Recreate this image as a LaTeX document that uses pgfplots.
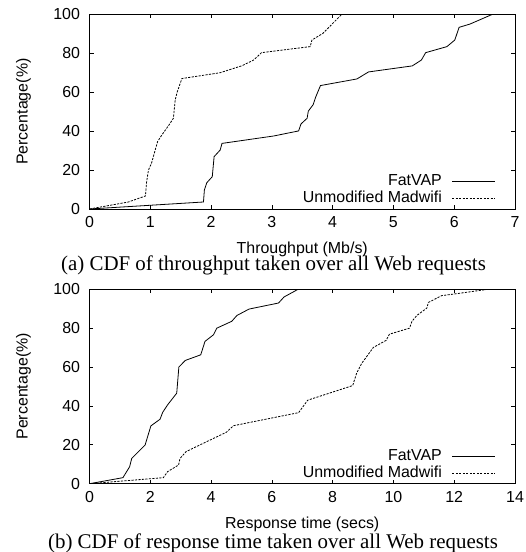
\documentclass[border=0pt]{standalone}
\usepackage{fontspec}
\setmainfont{Liberation Serif}
\setsansfont{Liberation Sans}
\usepackage{pgfplots}
\pgfplotsset{compat=1.18}
\begin{document}
\begin{tikzpicture}
\path[use as bounding box] (0,0) rectangle (526bp,-552bp);
\pgfplotsset{
 cdf/.style={
  scale only axis, width=425.5bp, height=194.7bp,
  ymin=0, ymax=100, ytick={0,20,...,100},
  font=\sffamily\fontsize{16}{19}\selectfont,
  /pgf/number format/assume math mode=true,
  tick align=inside, major tick length=4bp,
  axis line style={line width=0.9bp},
  tick style={line width=0.6bp, black},
  xticklabel style={yshift=-4bp},
  yticklabel style={xshift=-6bp},
  ylabel={Percentage(\%)},
  ylabel style={at={(axis description cs:-0.155,0.5)}, anchor=center},
  xlabel style={at={(axis description cs:0.5,-0.228)}, anchor=base},
  legend style={draw=none, fill=none, inner sep=0pt,
    at={(axis description cs:0.955,0.012)}, anchor=south east,
    nodes={inner sep=1bp, text height=11.5bp, text depth=2.5bp},
    row sep=1bp},
  legend cell align=right,
  legend plot pos=right,
  legend image code/.code={\path (0bp,0bp); \draw[##1] (9bp,0bp) -- (52bp,0bp);},
 },
 fv/.style={black, line width=0.8bp},
 mw/.style={black, line width=0.8bp, dash pattern=on 2.2bp off 1.3bp},
}
\begin{axis}[cdf, at={(89.5bp,-209bp)}, anchor=south west,
  xmin=0, xmax=7, xtick={0,1,...,7}, xlabel={Throughput (Mb/s)}]
\addplot[fv] coordinates {
(0,0) (1.875,3.6) (1.89,9.8) (1.93,13.5) (2.02,16.6) (2.05,26.9) (2.15,30.3) (2.18,33.7)
(3.03,37.5) (3.44,40.1) (3.48,43.7) (3.58,46.6) (3.60,50.3) (3.68,53.6) (3.72,57.4)
(3.80,63.4) (4.40,66.8) (4.59,70.4) (5.31,73.5) (5.46,76.5) (5.53,80.3) (5.88,83.4)
(6.01,86.8) (6.08,93.3) (6.26,95.0) (6.63,100)};
\addlegendentry{FatVAP}
\addplot[mw] coordinates {
(0,0) (0.64,3.6) (0.92,6.7) (0.94,14.0) (0.97,20.0) (1.02,23.5) (1.12,34.6) (1.19,38.0)
(1.32,43.7) (1.38,46.6) (1.41,56.0) (1.44,59.8) (1.52,67.0) (2.15,70.0) (2.51,73.6)
(2.70,76.5) (2.83,80.3) (3.63,83.4) (3.66,86.8) (3.84,90.2) (4.15,100)};
\addlegendentry{Unmodified Madwifi}
\end{axis}
\begin{axis}[cdf, at={(89.5bp,-483.7bp)}, anchor=south west,
  xmin=0, xmax=14, xtick={0,2,...,14}, xlabel={Response time (secs)}]
\addplot[fv] coordinates {
(0,0) (1.10,3.1) (1.32,8.7) (1.39,13.0) (1.83,19.9) (2.02,29.7) (2.32,33.1) (2.41,36.7)
(2.57,40.5) (2.87,46.5) (2.94,59.9) (3.15,63.3) (3.66,66.2) (3.80,73.1) (4.08,76.5)
(4.19,79.9) (4.68,83.4) (4.85,86.4) (5.25,89.7) (6.22,92.8) (6.40,95.9) (6.88,100)};
\addlegendentry{FatVAP}
\addplot[mw] coordinates {
(0,0) (2.43,3.1) (2.57,6.2) (2.93,9.6) (2.98,13.0) (3.18,16.5) (3.75,20.8) (4.50,26.4)
(4.74,29.8) (6.88,36.5) (7.18,42.9) (8.66,50.4) (8.79,56.8) (8.96,61.9) (9.34,70.0)
(9.76,73.6) (9.87,76.8) (10.53,79.9) (10.61,83.4) (10.77,86.4) (11.10,90.2) (11.15,93.1)
(11.59,96.6) (12.08,97.6) (13.18,100)};
\addlegendentry{Unmodified Madwifi}
\end{axis}
\node[font=\rmfamily\fontsize{21}{25}\selectfont, anchor=base] at (273.5bp,-270.5bp)
  {(a) CDF of throughput taken over all Web requests};
\node[font=\rmfamily\fontsize{21}{25}\selectfont, anchor=base] at (273bp,-548.5bp)
  {(b) CDF of response time taken over all Web requests};
\end{tikzpicture}
\end{document}
